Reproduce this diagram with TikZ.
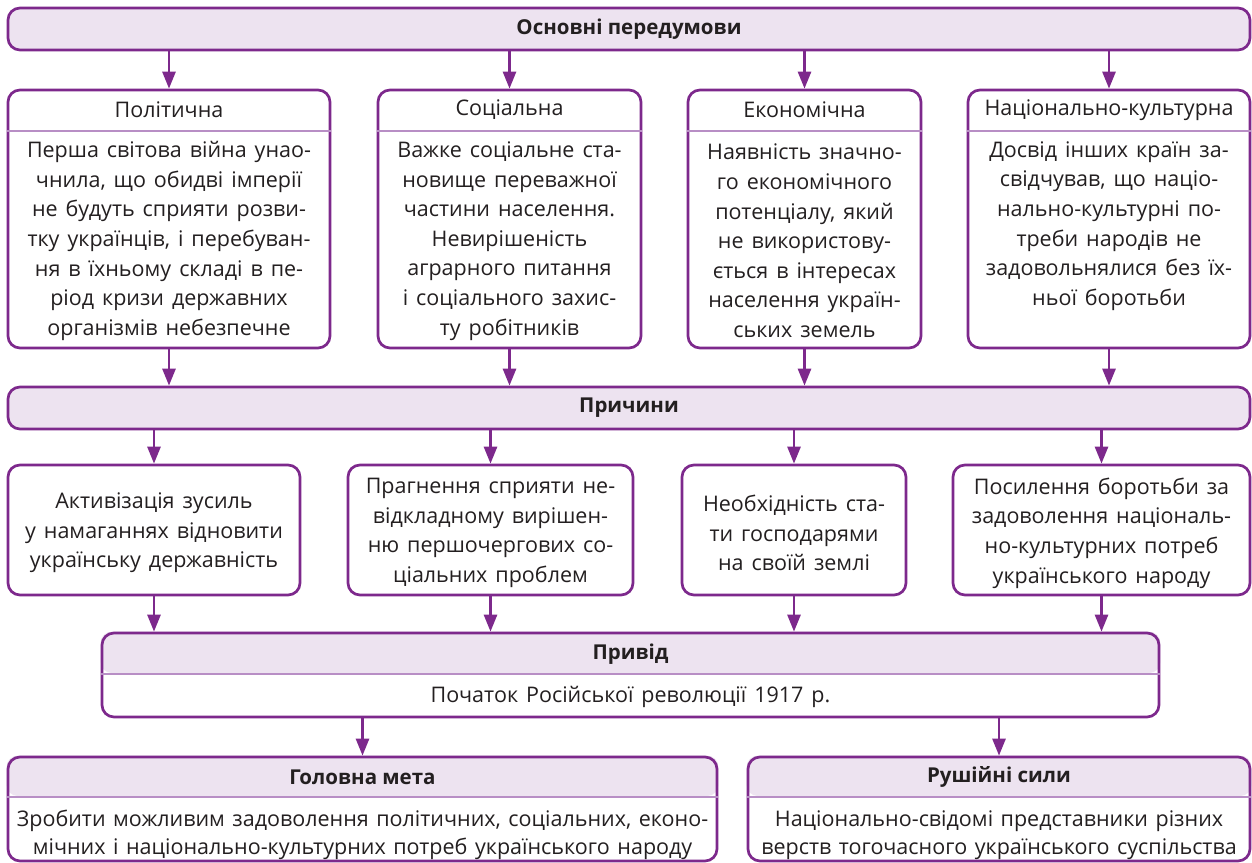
\documentclass[tikz,border=0pt]{standalone}
\usepackage{fontspec}
\setmainfont{Open Sans}
\usetikzlibrary{arrows.meta,backgrounds}
\definecolor{pur}{RGB}{125,41,140}
\definecolor{lav}{RGB}{237,227,240}
\definecolor{divc}{RGB}{184,142,197}
\definecolor{txt}{RGB}{35,31,32}
\newcommand{\bodyfont}{\fontsize{21.5}{29.6}\selectfont\spaceskip=0.37em plus 0.1em minus 0.05em\relax}
\newcommand{\lowfont}{\fontsize{21.5}{28.5}\selectfont\spaceskip=0.35em plus 0.1em minus 0.05em\relax}
\newcommand{\headfont}{\fontsize{20.5}{26}\selectfont\bfseries}
\tikzset{
  box/.style={draw=pur, line width=2.7pt, rounded corners=12pt, inner sep=0pt},
  barbox/.style={box, fill=lav},
  divline/.style={draw=divc, line width=2pt},
  hfill/.style={fill=lav, rounded corners=11pt},
  arr/.style={draw=pur, line width=2.7pt, -{Triangle[length=17pt,width=13pt]}},
  body/.style={text=txt, align=center, inner sep=0pt, font=\bodyfont},
  lowbody/.style={text=txt, align=center, inner sep=0pt, font=\lowfont},
  head/.style={text=txt, inner sep=0pt, font=\headfont},
  subhead/.style={text=txt, inner sep=0pt, font=\bodyfont},
}
\begin{document}
\begin{tikzpicture}[x=1pt,y=-1pt]
\useasboundingbox (0,0) rectangle (1252,862);
% bars
\node[barbox, minimum width=1242pt, minimum height=42pt] (top) at (629,29) {};
\node[head] (toptxt) at (629,29) {Основні передумови};
% row 1
\node[box, minimum width=322pt, minimum height=258pt] (b1) at (169,219) {};
\node[box, minimum width=263pt, minimum height=258pt] (b2) at (509.5,219) {};
\node[box, minimum width=233pt, minimum height=258pt] (b3) at (804.5,219) {};
\node[box, minimum width=282pt, minimum height=258pt] (b4) at (1109,219) {};
\foreach \b in {b1,b2,b3,b4}{\draw[divline] (\b.west |- 0,131) -- (\b.east |- 0,131);}
\node[subhead] (h1) at (169,110) {Політична};
\node[subhead] (h2) at (509.5,110) {Соціальна};
\node[subhead] (h3) at (804.5,110) {Економічна};
\node[subhead] (h4) at (1109,110) {Національно-культурна};
\node[body] (t1) at (169,241) {Перша світова війна унао-\\чнила, що обидві імперії\\не будуть сприяти розви-\\тку українців, і перебуван-\\ня в їхньому складі в пе-\\ріод кризи державних\\організмів небезпечне};
\node[body] (t2) at (509.5,241) {Важке соціальне ста-\\новище переважної\\частини населення.\\Невирішеність\\аграрного питання\\і соціального захис-\\ту робітників};
\node[body] (t3) at (804.5,241) {Наявність значно-\\го економічного\\потенціалу, який\\не використову-\\ється в інтересах\\населення україн-\\ських земель};
\node[body] (t4) at (1109,226) {Досвід інших країн за-\\свідчував, що націо-\\нально-культурні по-\\треби народів не\\задовольнялися без їх-\\ньої боротьби};
% causes bar
\node[barbox, minimum width=1242pt, minimum height=42pt] (causes) at (629,408) {};
\node[head] (causestxt) at (629,408) {Причини};
% row 2
\node[box, minimum width=292pt, minimum height=130pt] (c1) at (154,530) {};
\node[box, minimum width=285pt, minimum height=130pt] (c2) at (490.5,530) {};
\node[box, minimum width=224pt, minimum height=130pt] (c3) at (794,530) {};
\node[box, minimum width=297pt, minimum height=130pt] (c4) at (1101.5,530) {};
\node[body] (u1) at (154,533) {Активізація зусиль\\у намаганнях відновити\\українську державність};
\node[body] (u2) at (490.5,533) {Прагнення сприяти не-\\відкладному вирішен-\\ню першочергових со-\\ціальних проблем};
\node[body] (u3) at (794,533) {Необхідність ста-\\ти господарями\\на своїй землі};
\node[body] (u4) at (1101.5,533) {Посилення боротьби за\\задоволення національ-\\но-культурних потреб\\українського народу};
% pryvid
\node[box, minimum width=1057pt, minimum height=84pt] (pr) at (630.5,675) {};
\node[head] (prh) at (630.5,654) {Привід};
\node[body] (prt) at (630.5,697) {Початок Російської революції 1917 р.};
% bottom
\node[box, minimum width=709pt, minimum height=104pt] (goal) at (362.5,809) {};
\node[box, minimum width=502pt, minimum height=104pt] (force) at (999,809) {};
\node[head] (goalh) at (362.5,777) {Головна мета};
\node[head] (forceh) at (999,777) {Рушійні сили};
\node[lowbody] (goalt) at (362.5,835) {Зробити можливим задоволення політичних, соціальних, еконо-\\мічних і національно-культурних потреб українського народу};
\node[lowbody] (forcet) at (999,835) {Національно-свідомі представники різних\\верств тогочасного українського суспільства};
\begin{scope}[on background layer]
\fill[hfill] (pr.north west) rectangle (pr.east |- 0,673);
\fill[hfill] (goal.north west) rectangle (goal.east |- 0,796);
\fill[hfill] (force.north west) rectangle (force.east |- 0,796);
\end{scope}
\draw[divline] (pr.west |- 0,674) -- (pr.east |- 0,674);
\draw[divline] (goal.west |- 0,797) -- (goal.east |- 0,797);
\draw[divline] (force.west |- 0,797) -- (force.east |- 0,797);
% arrows
\foreach \b in {b1,b2,b3,b4}{
  \draw[arr] (\b.north |- top.south) -- (\b.north);
  \draw[arr] (\b.south) -- (\b.south |- causes.north);
}
\foreach \c in {c1,c2,c3,c4}{
  \draw[arr] (\c.north |- causes.south) -- (\c.north);
  \draw[arr] (\c.south) -- (\c.south |- pr.north);
}
\draw[arr] (goal.north |- pr.south) -- (goal.north);
\draw[arr] (force.north |- pr.south) -- (force.north);
\end{tikzpicture}
\end{document}
